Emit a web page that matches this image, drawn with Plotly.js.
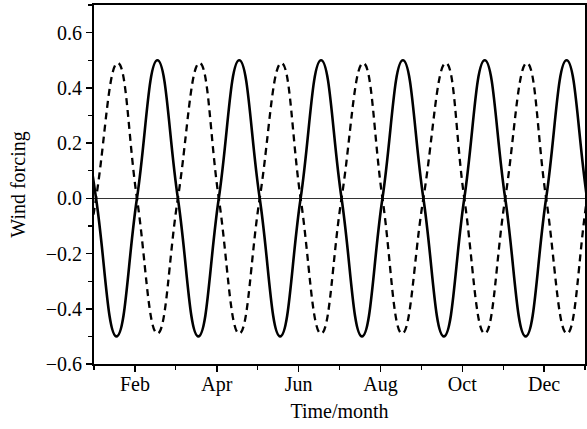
<!DOCTYPE html>
<html>
<head>
<meta charset="utf-8">
<script src="https://cdn.plot.ly/plotly-3.0.1.min.js"></script>
<style>html,body{margin:0;padding:0;background:#fff;}#chart{width:587px;height:429px;}</style>
</head>
<body>
<div id="chart"></div>
<script>
// Time in months since start of January (0 = Jan 1, 12 = end of Dec)
var solidX = [-0.45, 0.05, 0.55, 1.05, 1.55, 2.05, 2.55, 3.05, 3.55, 4.05, 4.55, 5.05, 5.55, 6.05, 6.55, 7.05, 7.55, 8.05, 8.55, 9.05, 9.55, 10.05, 10.55, 11.05, 11.55, 12.05, 12.55];
var solidY = [0.5, 0, -0.5, 0, 0.5, 0, -0.5, 0, 0.5, 0, -0.5, 0, 0.5, 0, -0.5, 0, 0.5, 0, -0.5, 0, 0.5, 0, -0.5, 0, 0.5, 0, -0.5];
var dashX = [-0.45, 0.05, 0.58, 1.05, 1.55, 2.05, 2.58, 3.05, 3.55, 4.05, 4.58, 5.05, 5.55, 6.05, 6.58, 7.05, 7.53, 8.05, 8.6, 9.05, 9.55, 10.05, 10.58, 11.05, 11.56, 12.05, 12.55];
var dashY = [-0.49, 0, 0.49, 0, -0.49, 0, 0.49, 0, -0.49, 0, 0.49, 0, -0.49, 0, 0.49, 0, -0.49, 0, 0.49, 0, -0.49, 0, 0.49, 0, -0.49, 0, 0.49];
var monthTickVals = [1, 3, 5, 7, 9, 11];
var monthTickText = ['Feb', 'Apr', 'Jun', 'Aug', 'Oct', 'Dec'];
var yTickVals = [-0.6, -0.4, -0.2, 0.0, 0.2, 0.4, 0.6];
var yTickText = ['\u22120.6', '\u22120.4', '\u22120.2', '0.0', '0.2', '0.4', '0.6'];

function serif(sz) { return {family: 'Liberation Serif', size: sz, color: '#000'}; }

var traces = [
  {x: solidX, y: solidY, type: 'scatter', mode: 'lines',
   line: {color: '#000', width: 2.6, shape: 'spline', smoothing: 1.3}, showlegend: false},
  {x: dashX, y: dashY, type: 'scatter', mode: 'lines',
   line: {color: '#000', width: 2.3, dash: '7px,5px', shape: 'spline', smoothing: 1.3}, showlegend: false}
];

var layout = {
  width: 587, height: 429,
  margin: {l: 94, r: 2, t: 5, b: 65},
  paper_bgcolor: '#fff', plot_bgcolor: '#fff',
  font: serif(20),
  showlegend: false,
  xaxis: {
    range: [0, 12], showgrid: false, zeroline: false,
    showline: true, linecolor: '#000', linewidth: 2, mirror: true,
    ticks: 'outside', ticklen: 6, tickwidth: 1.5, tickcolor: '#000',
    tickmode: 'array', tickvals: monthTickVals, ticktext: monthTickText,
    ticklabelstandoff: -5,
    minor: {tickmode: 'linear', tick0: 0, dtick: 1, ticks: 'outside', ticklen: 4, tickwidth: 1.2, tickcolor: '#000'},
    tickfont: serif(20),
    title: {text: 'Time/month', font: serif(20), standoff: 9}
  },
  yaxis: {
    range: [-0.6, 0.7], showgrid: false,
    zeroline: true, zerolinecolor: '#333', zerolinewidth: 1,
    showline: true, linecolor: '#000', linewidth: 2, mirror: true,
    ticks: 'outside', ticklen: 6, tickwidth: 1.5, tickcolor: '#000',
    tickmode: 'array', tickvals: yTickVals, ticktext: yTickText,
    minor: {tickmode: 'linear', tick0: 0, dtick: 0.1, ticks: 'outside', ticklen: 4, tickwidth: 1.2, tickcolor: '#000'},
    tickfont: serif(20),
    title: {text: 'Wind forcing', font: serif(20), standoff: 15}
  }
};

Plotly.newPlot('chart', traces, layout, {displayModeBar: false, staticPlot: true});
</script>
</body>
</html>
